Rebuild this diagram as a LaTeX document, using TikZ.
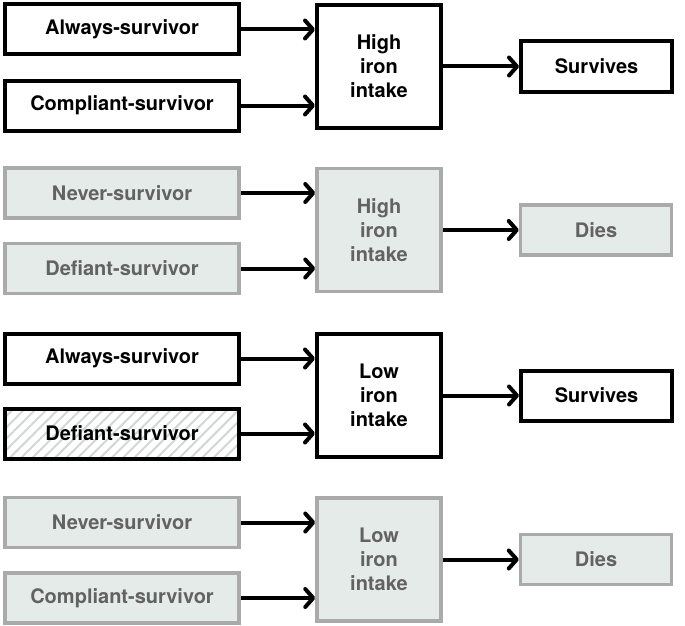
\documentclass[tikz,border=0pt]{standalone}
\usepackage{fontspec}
\setmainfont{TeX Gyre Heros}
\usepackage{xcolor}
\usepackage{tikz}
\usetikzlibrary{arrows.meta, positioning, patterns.meta}

\definecolor{deadline}{HTML}{AAAAAA}
\definecolor{deadfill}{HTML}{E5EBE8}
\definecolor{deadtext}{HTML}{626262}
\definecolor{hatchgray}{HTML}{D0D7D4}

\begin{document}
\begin{tikzpicture}[x=1pt, y=-1pt, >={Straight Barb[length=8pt, width=18pt, round]}, node distance=76pt,
            box/.style={draw, rectangle, line width=4pt, inner sep=2pt, align=center, font=\bfseries\fontsize{20}{24}\selectfont},
            type/.style={box, minimum width=234pt, minimum height=50pt},
            iron/.style={box, minimum width=124pt, minimum height=123pt},
            outcome/.style={box, minimum width=151pt, minimum height=50pt},
            dead/.style={draw=deadline, fill=deadfill, text=deadtext, line width=3.5pt},
            hatched/.style={pattern={Lines[angle=45, distance=8pt, line width=2pt]}, pattern color=hatchgray},
            arr/.style={->, line width=4pt}]

            \useasboundingbox (0,0) rectangle (685,626);

            % high iron, survives
            \node[type] (alwaysA) at (122,29.5) {Always-survivor};
            \node[type, below=22pt of alwaysA] (compliantA) {Compliant-survivor};
            \node[iron] (highA) at (379,66.5) {High\\iron\\intake};
            \node[outcome, right=of highA] (survA) {Survives};

            % high iron, dies
            \node[type, dead] (neverB) at (122,193) {Never-survivor};
            \node[type, dead, below=22pt of neverB] (defiantB) {Defiant-survivor};
            \node[iron, dead] (highB) at (379,230) {High\\iron\\intake};
            \node[outcome, dead, right=of highB] (diesB) {Dies};

            % low iron, survives
            \node[type] (alwaysC) at (122,358.5) {Always-survivor};
            \node[type, hatched, below=22pt of alwaysC] (defiantC) {Defiant-survivor};
            \node[iron] (lowC) at (379,395.5) {Low\\iron\\intake};
            \node[outcome, right=of lowC] (survC) {Survives};

            % low iron, dies
            \node[type, dead] (neverD) at (122,522.5) {Never-survivor};
            \node[type, dead, below=22pt of neverD] (compliantD) {Compliant-survivor};
            \node[iron, dead] (lowD) at (379,559.5) {Low\\iron\\intake};
            \node[outcome, dead, right=of lowD] (diesD) {Dies};

            \draw[arr] (alwaysA.east) -- (alwaysA.east -| highA.west);
            \draw[arr] (compliantA.east) -- (compliantA.east -| highA.west);
            \draw[arr] (highA) -- (survA);

            \draw[arr] (neverB.east) -- (neverB.east -| highB.west);
            \draw[arr] (defiantB.east) -- (defiantB.east -| highB.west);
            \draw[arr] (highB) -- (diesB);

            \draw[arr] (alwaysC.east) -- (alwaysC.east -| lowC.west);
            \draw[arr] (defiantC.east) -- (defiantC.east -| lowC.west);
            \draw[arr] (lowC) -- (survC);

            \draw[arr] (neverD.east) -- (neverD.east -| lowD.west);
            \draw[arr] (compliantD.east) -- (compliantD.east -| lowD.west);
            \draw[arr] (lowD) -- (diesD);
        \end{tikzpicture}
\end{document}
